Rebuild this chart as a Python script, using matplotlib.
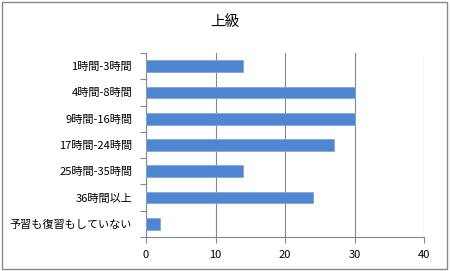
import matplotlib.pyplot as plt
from matplotlib.patches import Rectangle

plt.rcParams['font.family'] = ['Noto Sans CJK JP', 'DejaVu Sans']

# data
categories = ["1時間-3時間", "4時間-8時間", "9時間-16時間", "17時間-24時間",
              "25時間-35時間", "36時間以上", "予習も復習もしていない"]
values = [14, 30, 30, 27, 14, 24, 2]
xticks = [0, 10, 20, 30, 40]
title = "上級"


def main():
    fig = plt.figure(figsize=(4.5, 2.71), dpi=100)
    ax = fig.add_axes([146 / 450, 1 - 237 / 271, 278 / 450, 184 / 271])

    pos = list(range(len(categories)))
    ax.barh(pos, values, height=0.45, color='#4F86D0', edgecolor='#7FA8DE', linewidth=0.6, zorder=3)
    ax.set_ylim(len(categories) - 0.5, -0.5)
    ax.set_yticks(pos)
    ax.set_yticklabels(categories, fontsize=8)
    ax.set_yticks([p - 0.5 for p in range(len(categories) + 1)], minor=True)
    ax.tick_params(axis='y', which='major', length=0, pad=10)
    ax.tick_params(axis='y', which='minor', length=4, color='#888888', width=0.8)

    ax.set_xlim(0, 40)
    ax.set_xticks(xticks)
    ax.tick_params(axis='x', labelsize=8, length=4, color='#888888', width=0.8, pad=5)
    ax.grid(axis='x', color='#888888', linewidth=0.8, zorder=0)

    for side in ['top', 'right']:
        ax.spines[side].set_visible(False)
    for side in ['left', 'bottom']:
        ax.spines[side].set_color('#888888')
        ax.spines[side].set_linewidth(0.8)

    fig.text(0.5, 1 - 22 / 271, title, ha='center', va='center', fontsize=10.5)
    fig.patches.append(Rectangle((0.004, 0.006), 0.99, 0.988, transform=fig.transFigure,
                                 fill=False, edgecolor='#888888', linewidth=1))

    plt.savefig("out.png", dpi=100)


main()
